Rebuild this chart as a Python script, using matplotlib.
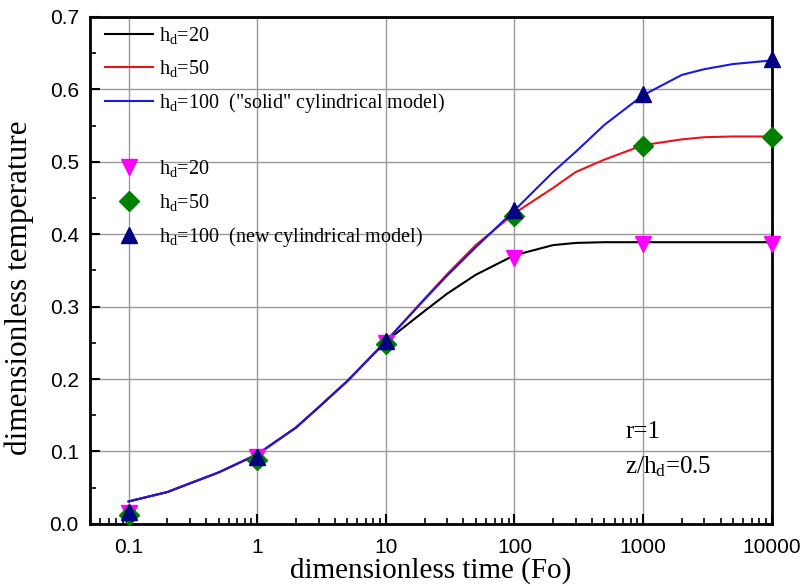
import matplotlib
matplotlib.use("Agg")
import matplotlib.pyplot as plt
from matplotlib.lines import Line2D
from matplotlib.ticker import MultipleLocator, LogLocator, FixedLocator, FixedFormatter, FormatStrFormatter

plt.rcParams["font.family"] = "Liberation Serif"
plt.rcParams["mathtext.fontset"] = "custom"
plt.rcParams["mathtext.rm"] = "Liberation Serif"
plt.rcParams["mathtext.it"] = "Liberation Serif:italic"

# "solid" cylindrical model curves
fo_line = [0.1, 0.2, 0.3, 0.5, 1, 2, 3, 5, 10, 20, 30, 50, 100,
           200, 300, 500, 1000, 2000, 3000, 5000, 10000]
line_h20 = [0.031, 0.044, 0.056, 0.071, 0.096, 0.133, 0.161, 0.197, 0.252, 0.294, 0.318, 0.344, 0.371,
            0.385, 0.388, 0.389, 0.389, 0.389, 0.389, 0.389, 0.389]
line_h50 = [0.031, 0.044, 0.056, 0.071, 0.096, 0.133, 0.161, 0.197, 0.252, 0.311, 0.345, 0.385, 0.429,
            0.464, 0.486, 0.503, 0.523, 0.531, 0.534, 0.535, 0.535]
line_h100 = [0.031, 0.044, 0.056, 0.071, 0.096, 0.133, 0.161, 0.197, 0.252, 0.310, 0.343, 0.382, 0.433,
             0.486, 0.514, 0.551, 0.592, 0.620, 0.628, 0.635, 0.640]

# new cylindrical model points
fo_pts = [0.1, 1, 10, 100, 1000, 10000]
pts_h20 = [0.015, 0.092, 0.250, 0.367, 0.386, 0.386]
pts_h50 = [0.012, 0.088, 0.248, 0.425, 0.522, 0.534]
pts_h100 = [0.016, 0.093, 0.252, 0.433, 0.594, 0.642]

xticks = [0.1, 1, 10, 100, 1000, 10000]
xtick_labels = ["0.1", "1", "10", "100", "1000", "10000"]

fig = plt.figure(figsize=(8.03, 5.86), dpi=100)
ax = fig.add_axes([0.112, 0.106, 0.849, 0.865])

l1, = ax.plot(fo_line, line_h20, color="black", lw=1.5)
l2, = ax.plot(fo_line, line_h50, color="#e8141c", lw=1.5)
l3, = ax.plot(fo_line, line_h100, color="#1a1adf", lw=1.5)
m1, = ax.plot(fo_pts, pts_h20, ls="none", marker="v", ms=12, color="#ff00ff", clip_on=False, zorder=3)
m2, = ax.plot(fo_pts, pts_h50, ls="none", marker="D", ms=10, color="#008000", clip_on=False, zorder=3)
m3, = ax.plot(fo_pts, pts_h100, ls="none", marker="^", ms=12, color="#000080", clip_on=False, zorder=4)

ax.set_xscale("log")
ax.set_xlim(0.05, 10000)
ax.set_ylim(0, 0.7)
ax.xaxis.set_major_locator(FixedLocator(xticks))
ax.xaxis.set_major_formatter(FixedFormatter(xtick_labels))
ax.xaxis.set_minor_locator(LogLocator(base=10, subs=range(2, 10), numticks=20))
ax.yaxis.set_major_locator(MultipleLocator(0.1))
ax.yaxis.set_minor_locator(MultipleLocator(0.05))
ax.yaxis.set_major_formatter(FormatStrFormatter("%.1f"))

ax.grid(True, which="major", color="#999999", lw=1)
ax.set_axisbelow(True)
for s in ax.spines.values():
    s.set_linewidth(2)
ax.tick_params(which="both", direction="in", top=False, right=False)
ax.tick_params(which="major", length=7, width=1.5)
ax.tick_params(axis="x", which="major", pad=10)
ax.tick_params(axis="y", which="major", pad=8)
ax.tick_params(which="minor", length=4, width=1.2)
for lab in ax.get_xticklabels() + ax.get_yticklabels():
    lab.set_family("Liberation Sans")
    lab.set_fontsize(15)

ax.set_xlabel("dimensionless time (Fo)", fontsize=21, labelpad=0)
ax.set_ylabel("dimensionless temperature", fontsize=22.5)
ax.yaxis.set_label_coords(-0.082, 0.465)

ax.text(0.785, 0.17, "r=1", transform=ax.transAxes, fontsize=18)
ax.text(0.785, 0.10, r"z/h$_\mathrm{d}$=0.5", transform=ax.transAxes, fontsize=18)

blank = Line2D([], [], ls="none")
handles = [l1, l2, l3, blank, m1, m2, m3]
labels = [r"h$_\mathrm{d}$=20", r"h$_\mathrm{d}$=50",
          r'h$_\mathrm{d}$=100  ("solid" cylindrical model)', "",
          r"h$_\mathrm{d}$=20", r"h$_\mathrm{d}$=50",
          r"h$_\mathrm{d}$=100  (new cylindrical model)"]
ax.legend(handles, labels, loc="upper left", frameon=False, fontsize=14.5,
          handlelength=2.4, handletextpad=0.3, labelspacing=0.6,
          borderaxespad=0.0, bbox_to_anchor=(0.01, 1.0))

fig.savefig("out.png", dpi=100)
